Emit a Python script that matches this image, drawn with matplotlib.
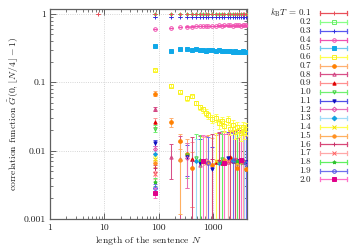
import matplotlib
matplotlib.use('Agg')
import matplotlib.pyplot as plt
from matplotlib.lines import Line2D
from matplotlib.ticker import FixedLocator, NullFormatter

plt.rcParams['font.family'] = 'serif'
plt.rcParams['font.serif'] = ['cmr10']
plt.rcParams['mathtext.fontset'] = 'cm'
plt.rcParams['axes.formatter.use_mathtext'] = True

# ---------------- data ----------------
temps = ['0.1', '0.2', '0.3', '0.4', '0.5', '0.6', '0.7', '0.8', '0.9', '1.0',
         '1.1', '1.2', '1.3', '1.4', '1.5', '1.6', '1.7', '1.8', '1.9', '2.0']

N_grid = [85, 165, 245, 325, 405, 485, 565, 645, 725, 805, 965, 1125, 1285,
          1445, 1605, 1845, 2085, 2325, 2565, 2805, 3045, 3285, 3525, 3765, 4005]

n_01 = [7.5, 85, 165, 245, 325, 405, 485, 565, 645, 725, 805, 965, 1125, 1285,
        1445, 1605, 1845, 2085, 2325, 2565, 2805, 3045, 3285, 3525, 3765, 4005]
g_01 = [1.00, 1.00, 1.00, 1.00, 0.99, 1.00, 1.00, 0.99, 1.00, 1.00, 1.00, 0.99, 1.00,
        1.00, 1.00, 0.99, 1.00, 1.00, 1.00, 1.00, 0.99, 1.00, 1.00, 1.00, 0.99, 1.00]
e_01 = [0.01, 0.005, 0.005, 0.005, 0.005, 0.005, 0.005, 0.005, 0.005, 0.005, 0.005, 0.005, 0.005,
        0.005, 0.005, 0.005, 0.005, 0.005, 0.005, 0.005, 0.005, 0.005, 0.005, 0.005, 0.005, 0.005]

g_02 = [1.00, 1.00, 1.00, 1.00, 1.00, 1.00, 1.00, 1.00, 1.00, 1.00, 1.00, 1.00, 1.00,
        1.00, 1.00, 1.00, 1.00, 1.00, 1.00, 1.00, 1.00, 1.00, 1.00, 1.00, 1.00]
g_03 = [0.90, 0.90, 0.90, 0.90, 0.91, 0.90, 0.90, 0.90, 0.90, 0.91, 0.90, 0.90, 0.90,
        0.90, 0.90, 0.90, 0.91, 0.90, 0.90, 0.90, 0.90, 0.90, 0.90, 0.90, 0.90]
g_04 = [0.60, 0.62, 0.64, 0.65, 0.65, 0.66, 0.66, 0.66, 0.67, 0.67, 0.67, 0.67, 0.68,
        0.67, 0.68, 0.68, 0.68, 0.67, 0.68, 0.68, 0.68, 0.67, 0.68, 0.68, 0.68]
g_05 = [0.34, 0.29, 0.31, 0.31, 0.30, 0.31, 0.30, 0.30, 0.29, 0.30, 0.30, 0.29, 0.30,
        0.29, 0.29, 0.29, 0.29, 0.28, 0.29, 0.28, 0.28, 0.28, 0.29, 0.28, 0.28]
g_06 = [0.150, 0.089, 0.073, 0.058, 0.062, 0.050, 0.043, 0.040, 0.036, 0.033, 0.029, 0.030, 0.025,
        0.027, 0.023, 0.028, 0.021, 0.024, 0.019, 0.022, 0.020, 0.018, 0.022, 0.019, 0.021]
e_06 = [0.005, 0.005, 0.004, 0.004, 0.004, 0.004, 0.004, 0.004, 0.004, 0.004, 0.004, 0.004, 0.004,
        0.004, 0.004, 0.004, 0.004, 0.004, 0.004, 0.004, 0.004, 0.004, 0.004, 0.004, 0.004]

n_07 = [85, 165, 245, 325, 405, 965, 2085, 2805, 4005]
g_07 = [0.068, 0.026, 0.014, 0.0088, 0.0055, 0.0062, 0.0078, 0.0055, 0.0053]
e_07 = [0.006, 0.004, 0.0035, 0.006, 0.004, 0.009, 0.011, 0.010, 0.011]

n_08 = [85, 165, 245, 565, 1285, 1845, 2325, 2805, 3525]
g_08 = [0.041, 0.0082, 0.0075, 0.0062, 0.0070, 0.0068, 0.0072, 0.0066, 0.0068]
e_08 = [0.003, 0.0043, 0.009, 0.010, 0.012, 0.011, 0.011, 0.012, 0.012]

n_09 = [85, 405, 1125, 1445, 2085, 2325, 2805, 3765]
g_09 = [0.026, 0.0075, 0.0068, 0.0065, 0.0080, 0.0070, 0.0072, 0.0070]
e_09 = [0.004, 0.006, 0.010, 0.011, 0.012, 0.012, 0.013, 0.012]

n_10 = [85, 325, 485, 1445, 2565, 3285]
g_10 = [0.021, 0.0085, 0.0078, 0.0075, 0.0070, 0.0065]
e_10 = [0.0025, 0.0045, 0.010, 0.012, 0.011, 0.012]

n_11 = [85, 325, 565, 965, 1845, 3045, 4005]
g_11 = [0.013, 0.0082, 0.0066, 0.0053, 0.0078, 0.0070, 0.0068]
e_11 = [0.0015, 0.004, 0.008, 0.006, 0.011, 0.012, 0.011]

n_12 = [85, 325, 725, 1605, 2565, 4005]
g_12 = [0.0105, 0.0078, 0.0072, 0.0068, 0.0075, 0.0065]
e_12 = [0.0012, 0.005, 0.009, 0.011, 0.010, 0.012]

n_13 = [85, 485, 1285, 2325, 3765]
g_13 = [0.0088, 0.0070, 0.0066, 0.0072, 0.0068]
e_13 = [0.0010, 0.008, 0.011, 0.012, 0.011]

n_14 = [85, 645, 1125, 2805]
g_14 = [0.0075, 0.0068, 0.0070, 0.0066]
e_14 = [0.0009, 0.009, 0.011, 0.012]

n_15 = [85, 245, 805, 1605, 3285]
g_15 = [0.0065, 0.0072, 0.0068, 0.0074, 0.0070]
e_15 = [0.0008, 0.006, 0.010, 0.012, 0.011]

n_16 = [85, 405, 965, 1285, 2085, 2565, 3045, 3525]
g_16 = [0.0055, 0.0070, 0.0075, 0.0072, 0.0068, 0.0074, 0.0072, 0.0070]
e_16 = [0.0007, 0.009, 0.010, 0.011, 0.012, 0.012, 0.013, 0.012]

n_17 = [85, 725, 1845, 3525]
g_17 = [0.0045, 0.0066, 0.0070, 0.0068]
e_17 = [0.0006, 0.009, 0.011, 0.012]

n_18 = [85, 565, 1445, 2805]
g_18 = [0.0035, 0.0072, 0.0068, 0.0070]
e_18 = [0.0005, 0.010, 0.011, 0.012]

n_19 = [85, 805, 2325, 4005]
g_19 = [0.0028, 0.0066, 0.0070, 0.0065]
e_19 = [0.0004, 0.009, 0.011, 0.012]

n_20 = [85, 645, 1605, 3285]
g_20 = [0.0024, 0.0070, 0.0066, 0.0072]
e_20 = [0.0004, 0.010, 0.011, 0.012]

small_err = [0.005, 0.005, 0.005, 0.005, 0.005, 0.005, 0.005, 0.005, 0.005, 0.005, 0.005, 0.005, 0.005,
             0.005, 0.005, 0.005, 0.005, 0.005, 0.005, 0.005, 0.005, 0.005, 0.005, 0.005, 0.005]
mid_err = [0.012, 0.010, 0.010, 0.010, 0.010, 0.010, 0.010, 0.010, 0.010, 0.010, 0.010, 0.010, 0.010,
           0.010, 0.010, 0.010, 0.010, 0.010, 0.010, 0.010, 0.010, 0.010, 0.010, 0.010, 0.010]

series = [
    (n_01, g_01, e_01), (N_grid, g_02, small_err), (N_grid, g_03, small_err),
    (N_grid, g_04, small_err), (N_grid, g_05, mid_err), (N_grid, g_06, e_06),
    (n_07, g_07, e_07), (n_08, g_08, e_08), (n_09, g_09, e_09), (n_10, g_10, e_10),
    (n_11, g_11, e_11), (n_12, g_12, e_12), (n_13, g_13, e_13), (n_14, g_14, e_14),
    (n_15, g_15, e_15), (n_16, g_16, e_16), (n_17, g_17, e_17), (n_18, g_18, e_18),
    (n_19, g_19, e_19), (n_20, g_20, e_20),
]

# style: (line colour, marker, marker colour, filled, marker size)
styles = [
    ('#e8505a', '+', '#e8505a', True, 3.2),
    ('#88ff88', 's', '#66ee66', False, 1.6),
    ('#5858f0', '+', '#3030e0', True, 3.0),
    ('#f050b0', 'o', '#f050b0', False, 2.6),
    ('#70c8f0', 's', '#10a8e8', True, 2.6),
    ('#ffff50', 's', '#f8f020', False, 2.6),
    ('#ffb070', 'o', '#ff8000', True, 2.6),
    ('#d85088', '^', '#d04080', False, 2.4),
    ('#ff9090', '^', '#e00000', True, 2.4),
    ('#70f070', 'v', '#40d040', False, 2.4),
    ('#5050e8', 'v', '#1010c0', True, 2.4),
    ('#e870b8', 'D', '#e050a8', False, 2.0),
    ('#a0dcf8', 'D', '#10a0e0', True, 2.0),
    ('#ffff50', 'x', '#f0e000', True, 2.4),
    ('#ffb060', 'o', '#ff9020', True, 2.4),
    ('#d84878', '+', '#c83068', True, 2.6),
    ('#ffa8a8', 'x', '#ff6060', True, 2.4),
    ('#60f060', '*', '#30c030', True, 2.6),
    ('#7070ee', 'o', '#5050e0', False, 2.6),
    ('#ff70c8', 's', '#e0008a', True, 2.6),
]

W, H = 360, 250
fig = plt.figure(figsize=(W / 100, H / 100), dpi=100)
ax = fig.add_axes([50 / W, 1 - 219 / H, 197 / W, 210 / H])
ax.set_xscale('log')
ax.set_yscale('log')

zorders = [3.5, 3.0, 3.4, 3.3, 3.3, 3.3]
for i, ((n, g, e), (lc, mk, mc, filled, ms)) in enumerate(zip(series, styles)):
    z = zorders[i] if i < len(zorders) else 3.1 + i * 0.005
    ax.errorbar(n, g, yerr=e, fmt=mk, color=lc, mec=mc,
                mfc=mc if filled else 'none', ms=ms, mew=0.7,
                elinewidth=0.75, capsize=1.5, capthick=0.75, ls='none',
                zorder=z)

ax.set_xlim(1, 4200)
ax.set_ylim(0.001, 1.18)

ax.xaxis.set_major_locator(FixedLocator([1, 10, 100, 1000]))
ax.set_xticklabels(['1', '10', '100', '1000'])
ax.yaxis.set_major_locator(FixedLocator([0.001, 0.01, 0.1, 1]))
ax.set_yticklabels(['0.001', '0.01', '0.1', '1'])
ax.xaxis.set_minor_formatter(NullFormatter())
ax.yaxis.set_minor_formatter(NullFormatter())
ax.tick_params(which='both', direction='in', top=True, right=True,
               labelsize=7, color='#606060', labelcolor='#202020')
ax.tick_params(which='major', length=4, width=0.7, pad=3)
ax.tick_params(which='minor', length=2, width=0.6)
ax.grid(True, which='major', ls=':', color='#c8c8c8', lw=0.6)
for s in ax.spines.values():
    s.set_color('#606060')
    s.set_linewidth(0.9)

ax.set_xlabel(r'length of the sentence $N$', fontsize=7, labelpad=2, color='#202020')
ax.set_ylabel(r'correlation function $\tilde{G}(0,\lfloor N/4\rfloor-1)$', fontsize=7,
              labelpad=2, color='#202020')

# legend (gnuplot style, outside the axes)
for i, (t, (lc, mk, mc, filled, ms)) in enumerate(zip(temps, styles)):
    yp = 13.3 + i * 8.74
    yf = 1 - yp / H
    if i == 0:
        fig.text(311 / W, 1 - 12.6 / H, r'$k_\mathrm{B}T$ = ' + t, ha='right',
                 va='center', fontsize=6.5, color='#202020')
    else:
        fig.text(311 / W, yf, t, ha='right', va='center', fontsize=6.5, color='#202020')
    fig.add_artist(Line2D([320 / W, 347 / W], [yf, yf], color=lc, lw=0.9))
    for xe in (320, 347):
        fig.add_artist(Line2D([xe / W, xe / W], [1 - (yp - 2) / H, 1 - (yp + 2) / H],
                              color=lc, lw=0.9))
    fig.add_artist(Line2D([333.5 / W], [yf], marker=mk, color=mc, mec=mc,
                          mfc=mc if filled else 'none', ms=max(ms, 2.4), mew=0.7, ls='none'))

fig.savefig('out.png', dpi=100)
